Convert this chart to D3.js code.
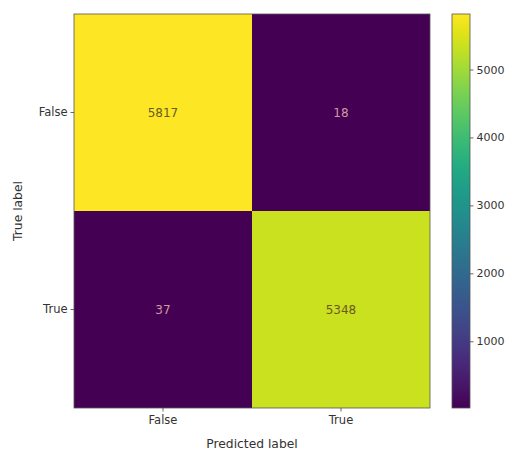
<!DOCTYPE html>
<html><head><meta charset="utf-8">
<script src="https://cdn.jsdelivr.net/npm/d3@7"></script>
<style>body{margin:0;background:#fff}svg{display:block}text{font-family:"DejaVu Sans",sans-serif}</style>
</head><body><svg id="c" width="513" height="452"></svg>
<script>
const trueLabels = ["False", "True"];
const predLabels = ["False", "True"];
const values = [[5817, 18], [37, 5348]];
const cbarTicks = [1000, 2000, 3000, 4000, 5000];

const svg = d3.select("#c");
const L = 74, R = 430, T = 14, B = 408;
const x = d3.scaleBand().domain(predLabels).range([L, R]);
const y = d3.scaleBand().domain(trueLabels).range([T, B]);
const flat = values.flat();
const vmin = d3.min(flat), vmax = d3.max(flat);
const color = d3.scaleSequential(d3.interpolateViridis).domain([vmin, vmax]);

const cells = [];
trueLabels.forEach((t, i) => predLabels.forEach((p, j) => cells.push({t, p, v: values[i][j]})));

svg.selectAll("rect.cell").data(cells).enter().append("rect")
  .attr("x", d => x(d.p)).attr("y", d => y(d.t))
  .attr("width", x.bandwidth()).attr("height", y.bandwidth())
  .attr("fill", d => color(d.v));

svg.selectAll("text.val").data(cells).enter().append("text")
  .attr("x", d => x(d.p) + x.bandwidth() / 2).attr("y", d => y(d.t) + y.bandwidth() / 2)
  .attr("text-anchor", "middle").attr("dominant-baseline", "central")
  .attr("font-size", 12)
  .attr("fill", d => d.v > (vmin + vmax) / 2 ? "#6a5a20" : "#d09aa0")
  .text(d => d.v);

svg.append("rect").attr("x", L).attr("y", T).attr("width", R - L).attr("height", B - T)
  .attr("fill", "none").attr("stroke", "#555").attr("stroke-width", 0.8);

const xAxis = svg.append("g").attr("transform", `translate(0,${B})`)
  .call(d3.axisBottom(x).tickSize(3.5).tickPadding(4));
const yAxis = svg.append("g").attr("transform", `translate(${L},0)`)
  .call(d3.axisLeft(y).tickSize(3.5).tickPadding(3));
[xAxis, yAxis].forEach(a => {
  a.select(".domain").remove();
  a.selectAll("line").attr("stroke", "#444").attr("stroke-width", 0.8);
  a.selectAll("text").attr("font-size", 11.5).attr("fill", "#333").attr("font-family", "DejaVu Sans");
});

svg.append("text").attr("x", (L + R) / 2).attr("y", 448).attr("text-anchor", "middle")
  .attr("font-size", 12.3).attr("fill", "#333").text("Predicted label");
svg.append("text").attr("transform", `translate(22,${(T + B) / 2}) rotate(-90)`)
  .attr("text-anchor", "middle").attr("font-size", 12.3).attr("fill", "#333").text("True label");

// colorbar
const CX = 452, CW = 18;
const cy = d3.scaleLinear().domain([vmin, vmax]).range([B, T]);
const defs = svg.append("defs");
const grad = defs.append("linearGradient").attr("id", "g").attr("x1", 0).attr("y1", 1).attr("x2", 0).attr("y2", 0);
d3.range(0, 1.001, 0.05).forEach(s => grad.append("stop").attr("offset", s).attr("stop-color", d3.interpolateViridis(s)));
svg.append("rect").attr("x", CX).attr("y", T).attr("width", CW).attr("height", B - T)
  .attr("fill", "url(#g)").attr("stroke", "#555").attr("stroke-width", 0.8);
const cAxis = svg.append("g").attr("transform", `translate(${CX + CW},0)`)
  .call(d3.axisRight(cy).tickValues(cbarTicks).tickSize(3.5).tickPadding(3).tickFormat(d3.format("d")));
cAxis.select(".domain").remove();
cAxis.selectAll("line").attr("stroke", "#444").attr("stroke-width", 0.8);
cAxis.selectAll("text").attr("font-size", 11).attr("fill", "#333").attr("font-family", "DejaVu Sans");
</script></body></html>
